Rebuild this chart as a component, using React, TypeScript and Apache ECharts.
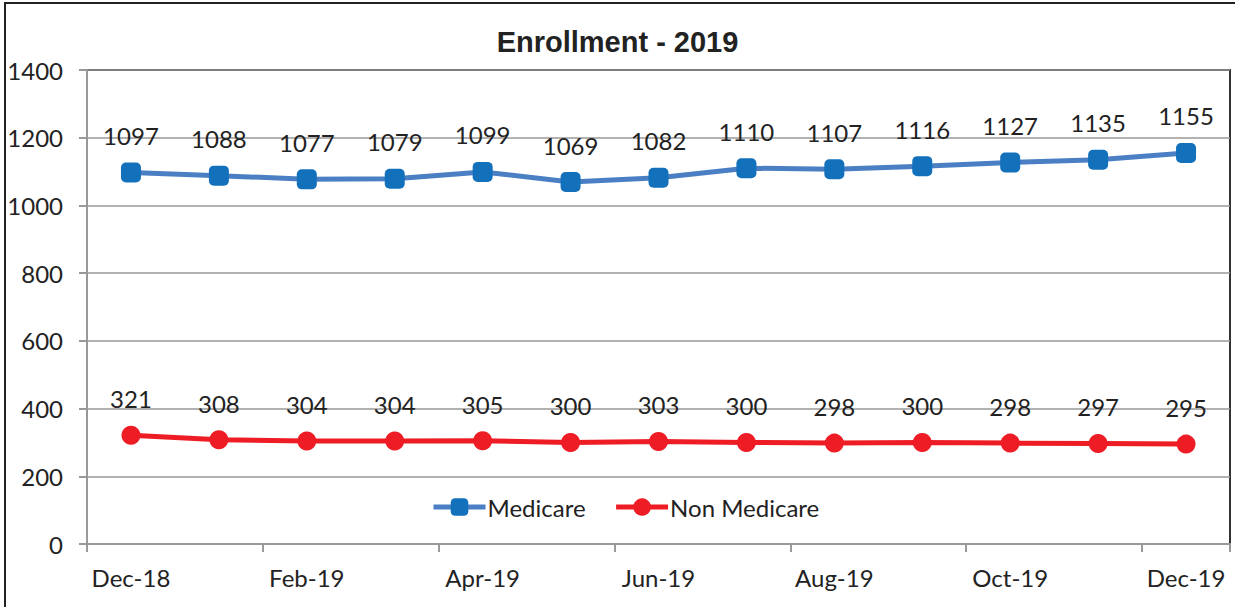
import React, { useEffect, useRef } from "react";
import * as echarts from "echarts";

const months = ["Dec-18", "Jan-19", "Feb-19", "Mar-19", "Apr-19", "May-19", "Jun-19", "Jul-19", "Aug-19", "Sep-19", "Oct-19", "Nov-19", "Dec-19"];
const medicare = [1097, 1088, 1077, 1079, 1099, 1069, 1082, 1110, 1107, 1116, 1127, 1135, 1155];
const nonMedicare = [321, 308, 304, 304, 305, 300, 303, 300, 298, 300, 298, 297, 295];
const yMin = 0;
const yMax = 1400;
const yStep = 200;

const FONT = "Lato, 'Open Sans', sans-serif";

export default function App() {
  const ref = useRef<HTMLDivElement>(null);
  useEffect(() => {
    document.body.style.margin = "0";
    const chart = echarts.init(ref.current!, null, { renderer: "svg" });
    chart.setOption({
      animation: false,
      backgroundColor: "#ffffff",
      title: {
        text: "Enrollment - 2019",
        left: "center",
        top: 22,
        textStyle: { fontFamily: "'Liberation Sans', Arial, sans-serif", fontWeight: "bold", fontSize: 29, color: "#222" },
      },
      graphic: [
        {
          type: "rect",
          shape: { x: 5, y: 3, width: 1260, height: 640 },
          style: { fill: "none", stroke: "#222", lineWidth: 2 },
          silent: true,
        },
      ],
      legend: {
        left: 426,
        top: 490,
        itemWidth: 52,
        itemHeight: 22,
        itemGap: 28,
        lineStyle: { width: 5 },
        textStyle: { fontFamily: FONT, fontSize: 24, color: "#222", padding: [0, 0, 0, -3] },
        data: ["Medicare", "Non Medicare"],
      },
      grid: {
        left: 87,
        right: 5,
        top: 70,
        bottom: 63,
        show: true,
        borderColor: "#333",
        borderWidth: 2,
        backgroundColor: "transparent",
      },
      xAxis: {
        type: "category",
        data: months,
        boundaryGap: true,
        axisLine: { lineStyle: { color: "#999", width: 2 } },
        axisTick: { show: true, interval: 1, length: 8, lineStyle: { color: "#999", width: 2 } },
        axisLabel: { interval: 1, margin: 21, fontFamily: FONT, fontSize: 24, color: "#222" },
        splitLine: { show: false },
      },
      yAxis: {
        type: "value",
        min: yMin,
        max: yMax,
        interval: yStep,
        axisLine: { show: true, lineStyle: { color: "#999", width: 2 } },
        axisTick: { show: true, length: 8, lineStyle: { color: "#999", width: 2 } },
        axisLabel: { margin: 24, fontFamily: FONT, fontSize: 24, color: "#222", formatter: (v: number) => String(v) },
        splitLine: { show: true, lineStyle: { color: "#999", width: 1.5 } },
      },
      series: [
        {
          name: "Medicare",
          type: "line",
          data: medicare,
          symbol: "roundRect",
          symbolSize: 20,
          itemStyle: { color: "#1370bb" },
          lineStyle: { color: "#4a80c3", width: 5 },
          label: { show: true, position: "top", distance: 15, fontFamily: FONT, fontSize: 24, color: "#222" },
        },
        {
          name: "Non Medicare",
          type: "line",
          data: nonMedicare,
          symbol: "circle",
          symbolSize: 19,
          itemStyle: { color: "#ee1c24" },
          lineStyle: { color: "#ee1c24", width: 5 },
          label: { show: true, position: "top", distance: 15, fontFamily: FONT, fontSize: 24, color: "#222" },
        },
      ],
    });
    return () => chart.dispose();
  }, []);
  return <div ref={ref} style={{ width: 1235, height: 607 }} />;
}
